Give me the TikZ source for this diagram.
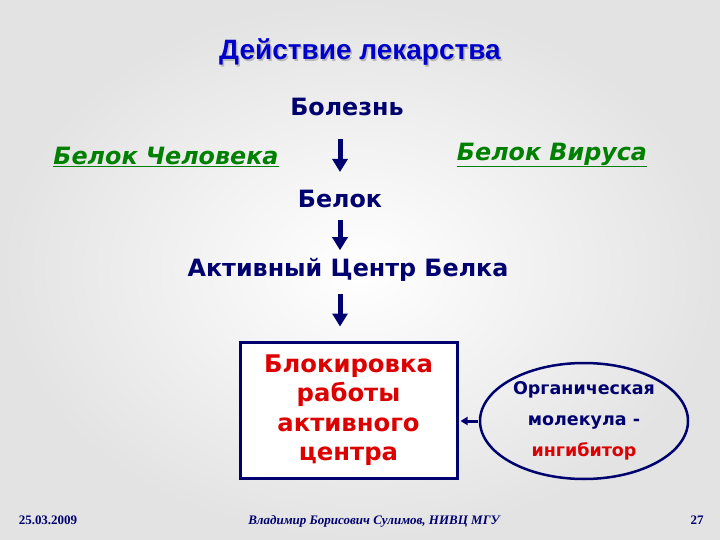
\documentclass[tikz,border=0pt]{standalone}
\usepackage{fontspec}
\setmainfont{DejaVu Sans}
\newfontfamily\arialf{Liberation Sans}
\newfontfamily\timesf{Liberation Serif}
\usetikzlibrary{arrows.meta,shapes.geometric,calc}
\definecolor{navyc}{RGB}{0,0,110}
\definecolor{titleblue}{RGB}{0,0,204}
\definecolor{greenc}{RGB}{0,128,0}
\definecolor{redc}{RGB}{220,0,0}
\tikzset{
  lbl/.style={font=\fontsize{23.8}{28}\selectfont\bfseries, text=navyc, inner sep=0pt},
  grn/.style={font=\fontsize{23.8}{28}\selectfont\bfseries\itshape, text=greenc, inner sep=0pt},
  bigarrow/.style={draw=navyc, line width=5pt, -{Triangle[width=15pt,length=13pt]}},
  smallarrow/.style={draw=navyc, line width=3pt, -{Triangle[width=8pt,length=7pt]}},
  foot/.style={font=\timesf\fontsize{13}{15}\selectfont\bfseries, text=navyc, inner sep=0pt}
}
\begin{document}
\begin{tikzpicture}[x=1pt,y=-1pt]
\useasboundingbox (0,0) rectangle (720,540);
\shade[inner color=white, outer color=gray!22] (0,0) rectangle (720,540);
% title
\node[font=\arialf\fontsize{28}{32}\selectfont\bfseries, text=gray!55, inner sep=0pt] (titleshadow) at (361.5,53.5) {Действие лекарства};
\node[font=\arialf\fontsize{28}{32}\selectfont\bfseries, text=titleblue, inner sep=0pt] (title) at (360,52) {Действие лекарства};
% chain
\node[lbl] (bolezn) at (347,107) {Болезнь};
\node[grn] (chel) at (166,157) {\underline{Белок Человека}};
\node[grn] (virus) at (552,155) {\underline{Белок Вируса}};
\node[lbl] (belok) at (340,199) {Белок};
\node[lbl] (aktiv) at (348,270) {Активный Центр Белка};
\node[draw=navyc, line width=3pt, fill=white, minimum width=217pt, minimum height=136pt, inner sep=0pt,
      font=\fontsize{24.3}{29.5}\selectfont\bfseries, text=redc, align=center] (box) at (348.5,410)
      {\raisebox{-2pt}{\parbox{200pt}{\centering Блокировка\\работы\\активного\\центра}}};
\node[draw=navyc, line width=2.5pt, ellipse, fill=none, minimum width=208pt, minimum height=116pt, inner sep=0pt,
      font=\fontsize{17.5}{31}\selectfont\bfseries, text=navyc, align=center] (mol) at (584,421)
      {Органическая\\молекула -\\\textcolor{redc}{ингибитор}};
\draw[bigarrow, shorten <=23pt, shorten >=18pt] (bolezn.south -| belok) -- (belok.north);
\draw[bigarrow, shorten <=12pt, shorten >=8pt] (belok.south) -- (aktiv.north -| belok);
\draw[bigarrow, shorten <=12pt, shorten >=14pt] (aktiv.south -| belok) -- (box.north -| belok);
\draw[smallarrow, shorten <=1pt, shorten >=2pt] (mol.west) -- (mol.west -| box.east);
% footer
\node[foot] (date) at (48,520) {25.03.2009};
\node[foot, font=\timesf\fontsize{13}{15}\selectfont\bfseries\itshape] (author) at (374,521) {Владимир Борисович Сулимов, НИВЦ МГУ};
\node[foot] (page) at (697,520) {27};
\end{tikzpicture}
\end{document}
